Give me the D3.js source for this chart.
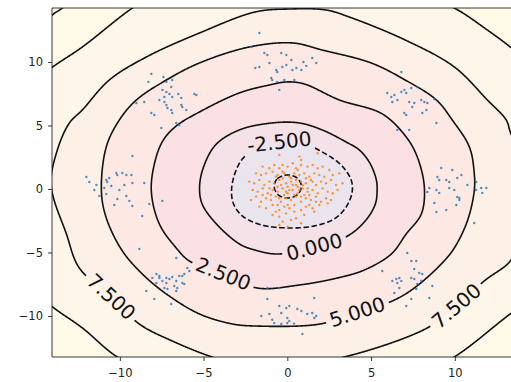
<!DOCTYPE html>
<html><head><meta charset="utf-8">
<script src="https://cdn.jsdelivr.net/npm/d3@7"></script>
<style>body{margin:0;background:#fff}</style>
</head><body><svg id="c" width="511" height="382"></svg>
<script>
// ---------------- data ----------------
const xTicks = [-10, -5, 0, 5, 10];
const yTicks = [-10, -5, 0, 5, 10];
const levels = [-5, -2.5, 0, 2.5, 5, 7.5, 10, 12.5];

const contourNeg5 = [[-0.78,0.2],[-0.6,0.8],[0,1.1],[0.6,0.85],[0.84,0.2],[0.6,-0.45],[0,-0.71],[-0.55,-0.45]];
const contourNeg2_5 = [[-3.33,-0.08],[-3.10,1.34],[-2.63,2.44],[-1.67,3.31],[-0.48,3.70],[0.72,3.70],[2.09,2.91],[3.21,1.89],[3.81,0.71],[3.87,-0.24],[3.51,-1.42],[2.80,-2.36],[1.61,-2.91],[0.12,-3.07],[-1.55,-2.83],[-2.68,-2.13],[-3.21,-1.18]];
const contour0 = [[-5.24,-0.08],[-5.06,1.50],[-4.29,3.46],[-2.86,4.65],[-0.89,5.20],[0.71,5.20],[2.08,4.65],[3.51,3.70],[4.3,3.07],[4.9,2.1],[5.3,0.8],[5.36,-0.16],[5.25,-1.2],[4.70,-2.44],[3.6,-3.7],[1.61,-4.57],[-0.60,-5.12],[-1.96,-4.80],[-2.86,-4.33],[-4.23,-2.76],[-5.06,-1.26]];
const contour2_5 = [[-8.12,-0.16],[-7.88,2.28],[-7.40,3.86],[-6.63,4.96],[-5.25,6.06],[-2.87,7.56],[-1.07,8.19],[0,8.43],[1.01,8.27],[3.10,7.01],[5.67,5.91],[7.10,4.09],[7.76,2.52],[8.18,0.16],[8.0,-1.97],[7.10,-3.54],[6.21,-5.12],[4.60,-6.38],[2.99,-7.01],[0.72,-7.56],[-1.79,-7.80],[-3.82,-6.69],[-5.85,-5.67],[-6.63,-4.65],[-7.64,-2.76]];
const contour5 = [[-11.10,-0.16],[-10.81,3.31],[-10.03,5.43],[-9.01,7.01],[-7.22,8.58],[-5.25,9.92],[-2.27,11.18],[0.30,11.50],[2.09,10.94],[5.01,9.92],[7.04,8.58],[8.90,7.01],[9.85,5.43],[10.87,3.31],[11.16,1.26],[11.16,-0.16],[10.75,-2.52],[9.97,-4.65],[9.19,-5.91],[7.58,-7.80],[6.27,-8.82],[4.18,-9.69],[1.97,-10.63],[-1.91,-10.79],[-3.28,-10.63],[-5.25,-9.84],[-7.22,-8.27],[-8.66,-6.69],[-9.85,-4.88],[-10.81,-2.28]];
const contour7_5 = [[-14.1,0.3],[-13.73,3.07],[-13.01,5.20],[-12.24,6.22],[-10.63,8.58],[-8.42,10.39],[-5.25,12.28],[-1.91,13.94],[0.12,14.17],[2.33,14.09],[3.70,13.54],[7.04,11.73],[9.97,9.61],[11.94,7.01],[13.07,5.43],[13.31,4.49],[13.9,2.5],[14.2,0],[14.0,-2.5],[13.6,-4.5],[13.31,-5.67],[11.76,-7.24],[10.09,-9.21],[8.36,-10.94],[3.40,-13.23],[0,-13.9],[-3,-13.7],[-4.48,-13.23],[-6.87,-11.97],[-8.84,-10.63],[-10.51,-8.50],[-12.42,-6.22],[-13.19,-3.54]];
const contour10 = [[-14.09,9.53],[-12.24,11.18],[-9.25,14.25],[-7.5,15.6],[0,17],[7.5,15.6],[9.97,14.25],[11.94,12.52],[13.31,11.18],[14.5,9.8],[16.5,0],[14.8,-8.5],[13.31,-9.84],[9.97,-13.23],[7,-15.2],[0,-16],[-7,-15.2],[-10.15,-13.23],[-12.24,-10.94],[-14.09,-9.21],[-15.5,-7.5],[-16.5,0],[-15.5,8]];
const contour12_5 = [[-14.03,13.70],[-13.43,14.25],[-12,16],[0,19.5],[15,17],[18,0],[15,-17],[0,-18],[-16,-15],[-18,0],[-15.5,11.5]];
const contours = [contourNeg5, contourNeg2_5, contour0, contour2_5, contour5, contour7_5, contour10, contour12_5];

const labelLevels = [-2.5, 0, 2.5, 5, 7.5, 7.5];
const labelX = [-0.48, 1.61, -3.82, 4.18, -10.51, 10.09];
const labelY = [3.70, -4.57, -6.69, -9.69, -8.50, -9.21];

const bluePoints = [
[-1.67,12.28],[-2.15,11.18],[-1.37,10.71],[-1.19,10.55],[-0.36,10.71],[-0.06,10.55],[-1.91,9.53],[-1.67,9.61],[-1.07,9.92],[-0.66,9.37],[-0.60,9.21],[-0.30,9.61],[-0.06,9.76],[0.30,9.37],[0.54,9.53],[0.84,9.37],[0.96,10.0],[1.49,10.31],[1.73,9.92],[-0.96,8.74],[-0.90,8.58],[-0.60,8.43],[-0.18,8.58],[0.42,8.58],[-0.48,7.80],[0.24,10.16],[1.13,9.69],
[-8.12,9.06],[-8.30,8.43],[-7.40,8.82],[-7.22,8.43],[-6.87,8.58],[-6.93,8.03],[-7.46,7.80],[-7.22,7.64],[-7.34,7.24],[-7.04,7.48],[-6.87,7.24],[-6.51,7.48],[-6.33,7.17],[-7.34,6.85],[-7.22,6.61],[-7.16,6.38],[-6.93,6.22],[-6.87,5.98],[-6.33,6.61],[-6.27,6.46],[-6.03,6.22],[-5.55,7.48],[-5.43,7.40],[-8.12,5.98],[-7.94,5.83],[-7.52,4.80],[-6.63,5.20],[-6.45,5.04],[-8.54,6.85],[-9.01,6.77],[-7.64,7.01],[-9.25,2.60],
[-12.0,0.94],[-11.82,0.55],[-10.81,0.71],[-10.75,0.55],[-10.63,0.87],[-10.21,1.26],[-10.15,1.10],[-9.85,1.26],[-9.61,1.10],[-9.31,1.10],[-9.25,0.47],[-8.54,0.47],[-11.40,0.31],[-11.22,-0.55],[-10.81,-0.39],[-10.15,-0.79],[-9.61,-0.55],[-9.43,-0.94],[-9.25,-1.34],[-8.66,-2.13],[-8.24,-1.18],[-7.46,-0.94],[-10.93,0.08],[-10.51,0.24],[-10.03,-0.08],[-11.52,-0.08],[-9.73,0.31],[-10.33,-1.26],
[-8.84,-4.72],[-6.63,-5.43],[-5.97,-6.22],[-5.85,-6.46],[-7.82,-6.69],[-7.64,-6.85],[-7.22,-7.01],[-7.04,-7.09],[-6.87,-6.93],[-6.45,-6.85],[-6.27,-6.85],[-6.15,-6.69],[-7.46,-7.24],[-7.22,-7.40],[-6.63,-7.24],[-6.27,-7.40],[-7.82,-7.40],[-7.34,-7.80],[-7.16,-7.87],[-6.75,-7.64],[-6.57,-7.80],[-8.42,-8.03],[-7.94,-8.66],[-6.93,-9.06],[-6.63,-8.03],[-6.15,-7.48],[-7.64,-7.01],[-8.06,-7.01],
[-1.19,-8.66],[-0.48,-9.21],[-0.06,-9.37],[0.12,-9.21],[-1.07,-9.84],[-0.36,-9.76],[0,-10.16],[0.60,-9.45],[0.84,-9.61],[1.19,-9.84],[1.61,-8.58],[1.49,-9.76],[1.73,-10.0],[-0.78,-10.55],[-0.36,-10.63],[0,-10.55],[0.12,-10.39],[-1.55,-10.0],[0.90,-11.42],[1.61,-10.16],[-0.48,-7.80],[-1.19,-7.80],[-0.9,-10.3],[0.4,-10.6],
[5.67,-6.46],[7.16,-5.04],[7.40,-5.67],[7.70,-5.67],[7.58,-6.30],[7.88,-6.61],[8.06,-6.69],[6.27,-7.24],[6.51,-7.09],[6.57,-7.40],[6.69,-7.01],[6.81,-7.24],[7.40,-7.01],[7.58,-7.09],[7.76,-7.48],[8.0,-7.24],[6.39,-8.19],[7.40,-8.66],[7.10,-9.21],[8.48,-8.58],[8.66,-7.64],[7.70,-7.87],[6.69,-7.80],
[9.19,1.65],[9.85,1.50],[8.96,0.94],[9.07,0.71],[9.49,0.71],[9.67,0.55],[10.15,0.87],[10.39,1.10],[8.48,0.08],[8.36,-0.24],[8.90,-0.08],[9.07,-0.31],[9.67,0.08],[9.97,-0.08],[10.15,-0.63],[10.27,-0.87],[10.09,-1.26],[8.78,-1.10],[8.90,-1.81],[9.49,-1.65],[10.75,0.31],[11.28,0.55],[11.28,-0.08],[11.58,0.08],[11.88,0.08],[11.64,-0.31],[11.16,-2.68],[10.27,-0.71],
[6.81,9.21],[5.97,7.56],[6.21,7.24],[6.39,7.40],[6.81,7.64],[6.99,7.80],[7.10,7.56],[7.40,7.95],[7.76,8.03],[6.27,6.85],[6.57,7.01],[7.28,6.85],[7.58,6.77],[8.0,7.01],[8.18,6.85],[8.36,6.77],[7.46,6.46],[6.99,5.98],[7.10,5.83],[8.06,5.98],[8.30,6.22],[8.90,5.20],[6.57,4.65],[7.28,4.65],[8.78,7.09]
];

const orangePoints = [
[-0.48,2.68],[0.72,2.55],[0.82,2.28],[1.81,2.81],
[-1.47,1.76],[-1.07,1.63],[-0.78,1.89],[-0.28,1.89],[0.02,1.76],[0.32,2.02],[0.52,1.63],[0.82,1.89],[1.21,1.76],[1.51,1.89],[1.81,1.63],[2.11,1.76],[2.51,1.5],
[-1.87,1.23],[-1.57,1.10],[-1.27,1.23],[-0.88,1.36],[-0.58,1.10],[-0.18,1.23],[0.12,0.97],[0.42,1.23],[0.72,1.10],[1.01,1.23],[1.31,0.97],[1.61,1.23],[1.91,1.10],[2.21,0.97],[2.71,1.10],[3.10,1.23],
[-2.27,0.58],[-1.97,0.45],[-1.67,0.71],[-1.37,0.31],[-1.07,0.58],[-0.78,0.45],[-0.48,0.71],[-0.08,0.45],[0.22,0.58],[0.52,0.31],[0.82,0.58],[1.11,0.45],[1.41,0.71],[1.71,0.31],[2.01,0.58],[2.31,0.45],[2.61,0.71],[2.91,0.31],[3.30,0.45],
[-2.07,-0.08],[-1.77,-0.21],[-1.47,0.05],[-1.17,-0.34],[-0.88,-0.08],[-0.58,-0.21],[-0.28,0.05],[0.02,-0.34],[0.32,-0.08],[0.62,-0.34],[0.92,0.05],[1.21,-0.21],[1.51,-0.08],[1.81,-0.34],[2.11,0.05],[2.41,-0.21],[2.71,-0.34],[3.00,-0.08],
[-2.17,-0.87],[-1.87,-0.60],[-1.57,-1.00],[-1.27,-0.73],[-0.98,-0.87],[-0.68,-0.60],[-0.38,-1.00],[-0.08,-0.73],[0.22,-0.87],[0.52,-0.60],[0.82,-1.00],[1.11,-0.73],[1.41,-0.87],[1.71,-0.60],[2.01,-1.00],[2.31,-0.73],[2.61,-0.87],[2.41,-1.13],
[-1.67,-1.39],[-1.27,-1.52],[-0.88,-1.26],[-0.48,-1.65],[-0.18,-1.39],[0.12,-1.52],[0.42,-1.26],[0.82,-1.65],[1.11,-1.39],[1.51,-1.52],[1.91,-1.26],[1.61,-1.78],[1.31,-1.26],
[-0.88,-2.05],[-0.48,-2.18],[-0.08,-1.92],[0.52,-2.31],[1.01,-2.05],[-0.28,-2.57],[0.22,-2.44],[-0.68,-1.78],
[-0.48,-2.83],[0.02,-2.97],[0.82,-2.70],
[-0.28,0.84],[0.02,0.18],[0.32,0.31],[0.62,0.18],[0.92,0.31],[-0.18,-0.47],[0.12,-0.08],[0.42,-0.47],[0.72,-0.08],[1.01,-0.47],[-0.48,-0.73],[0.52,0.71],[0.22,0.84],[-0.08,-0.21],[0.82,-0.60],[-0.38,0.31],[1.21,0.05],[-0.58,0.18],[1.31,-0.47],[-0.98,-0.47],
[-0.68,0.97],[-0.28,1.36],[1.11,0.84],[-1.07,0.05],[1.51,0.58],[-1.47,-0.47],[1.71,-1.00],[0.42,-1.78],[0.02,-1.26],[-0.58,-1.26],[0.62,1.50],[-0.48,1.63]
];

// ---------------- styles ----------------
const bandColors = ["#e7e1ec","#eae4ee","#f4e2e8","#fce1e4","#fde8e4","#fdf0e6","#fef6e8","#fffae8","#fffdea"];
const FONT = "DejaVu Sans, sans-serif";

// ---------------- drawing ----------------
const svg = d3.select("#c");
svg.append("rect").attr("width",511).attr("height",382).attr("fill","#fff");
const x = d3.scaleLinear().domain([-14.05, 14.0]).range([52, 521.8]);
const y = d3.scaleLinear().domain([-13.23, 14.25]).range([357, 8]);

const defs = svg.append("defs");
defs.append("clipPath").attr("id","plotclip").append("rect")
  .attr("x",x.range()[0]).attr("y",y.range()[1])
  .attr("width",x.range()[1]-x.range()[0]).attr("height",y.range()[0]-y.range()[1]);

const plot = svg.append("g").attr("clip-path","url(#plotclip)");
plot.append("rect").attr("x",x.range()[0]).attr("y",y.range()[1])
  .attr("width",x.range()[1]-x.range()[0]).attr("height",y.range()[0]-y.range()[1])
  .attr("fill",bandColors[levels.length]);

const lineSmooth = d3.line().x(d=>x(d[0])).y(d=>y(d[1])).curve(d3.curveCatmullRomClosed.alpha(0.5));
const fillPaths = [];
for (let i = levels.length-1; i >= 0; i--) {
  fillPaths[i] = plot.append("path").attr("d", lineSmooth(contours[i])).attr("fill", bandColors[i]).attr("stroke","none");
}

// sample a closed smooth contour path densely (pixel space)
function sample(pathNode){
  const L = pathNode.getTotalLength();
  const n = Math.max(8, Math.ceil(L/0.5));
  const out = [];
  for (let i=0;i<n;i++){ const p = pathNode.getPointAtLength(L*i/n); out.push([p.x,p.y]); }
  return out;
}
const lineG = plot.append("g");
const labelG = svg.append("g");
const pline = d3.line();
levels.forEach((lev, li) => {
  const dense = sample(fillPaths[li].node());
  const n = dense.length;
  const removed = new Array(n).fill(false);
  labelLevels.forEach((ll, k) => {
    if (ll !== lev) return;
    const A = [x(labelX[k]), y(labelY[k])];
    const txt = labelG.append("text").text(lev.toFixed(3))
      .attr("font-family",FONT).attr("font-size",20).attr("fill","#111")
      .attr("text-anchor","middle").attr("dominant-baseline","central");
    const w = txt.node().getComputedTextLength();
    const half = w/2 + 4;
    const dist = p => Math.hypot(p[0]-A[0], p[1]-A[1]);
    let i0 = 0, best = Infinity;
    dense.forEach((p,i)=>{const d=dist(p); if(d<best){best=d;i0=i;}});
    let j=i0, st=0;
    while(dist(dense[j])<half && st<n){removed[j]=true; j=(j+1)%n; st++;}
    let kk=(i0-1+n)%n; st=0;
    while(dist(dense[kk])<half && st<n){removed[kk]=true; kk=(kk-1+n)%n; st++;}
    let ang = Math.atan2(dense[j][1]-dense[kk][1], dense[j][0]-dense[kk][0])*180/Math.PI;
    if (ang > 90) ang -= 180; if (ang < -90) ang += 180;
    txt.attr("transform", `translate(${A[0]},${A[1]}) rotate(${ang})`);
  });
  const style = sel => sel.attr("fill","none").attr("stroke","#111").attr("stroke-width",1.6)
      .attr("stroke-dasharray", lev < 0 ? "5.5,2.6" : null).attr("stroke-linejoin","round");
  if (!removed.some(r=>r)) {
    lineG.append("path").attr("d", pline(dense) + "Z").call(style);
  } else {
    let s = 0; while(!(removed[s] && !removed[(s+1)%n])) s++;
    let run = [];
    for (let t=1; t<=n; t++) {
      const idx = (s+t)%n;
      if (!removed[idx]) run.push(dense[idx]);
      else if (run.length) { lineG.append("path").attr("d", pline(run)).call(style); run = []; }
    }
    if (run.length) lineG.append("path").attr("d", pline(run)).call(style);
  }
});

// scatter
const ptsG = svg.append("g").attr("clip-path","url(#plotclip)");
ptsG.selectAll("circle.b").data(bluePoints).join("circle").attr("class","b")
  .attr("cx",d=>x(d[0])).attr("cy",d=>y(d[1])).attr("r",1.2).attr("fill","#1f77b4").attr("fill-opacity",0.8);
ptsG.selectAll("circle.o").data(orangePoints).join("circle").attr("class","o")
  .attr("cx",d=>x(d[0])).attr("cy",d=>y(d[1])).attr("r",1.2).attr("fill","#ff7f0e").attr("fill-opacity",0.8);

labelG.raise();

// axes
const fmt = d3.format("d");
const xAxis = svg.append("g").attr("transform",`translate(0,${y.range()[0]})`)
  .call(d3.axisBottom(x).tickValues(xTicks).tickFormat(fmt).tickSize(4).tickSizeOuter(0).tickPadding(8));
const yAxis = svg.append("g").attr("transform",`translate(${x.range()[0]},0)`)
  .call(d3.axisLeft(y).tickValues(yTicks).tickFormat(fmt).tickSize(4).tickSizeOuter(0).tickPadding(5));
[xAxis,yAxis].forEach(g=>{
  g.select(".domain").remove();
  g.selectAll(".tick line").attr("stroke","#222").attr("stroke-width",0.9);
  g.selectAll(".tick text").attr("font-family",FONT).attr("font-size",11.5).attr("fill","#222");
});
// spines
const sp = svg.append("g").attr("stroke","#222").attr("stroke-width",0.9);
sp.append("line").attr("x1",x.range()[0]).attr("x2",x.range()[0]).attr("y1",y.range()[1]).attr("y2",y.range()[0]);
sp.append("line").attr("x1",x.range()[0]).attr("x2",x.range()[1]).attr("y1",y.range()[0]).attr("y2",y.range()[0]);
sp.append("line").attr("x1",x.range()[0]).attr("x2",x.range()[1]).attr("y1",y.range()[1]).attr("y2",y.range()[1]);
sp.append("line").attr("x1",x.range()[1]).attr("x2",x.range()[1]).attr("y1",y.range()[1]).attr("y2",y.range()[0]);
</script></body></html>
